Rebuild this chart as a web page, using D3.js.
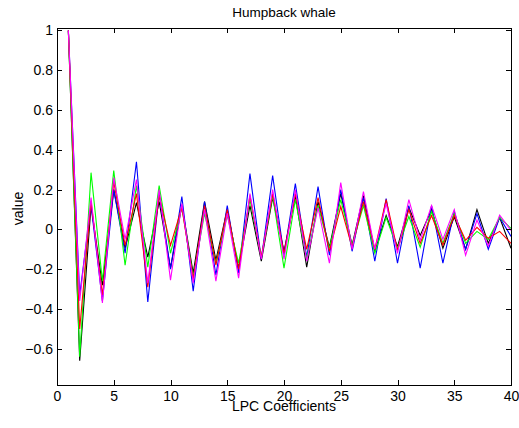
<!DOCTYPE html>
<html lang="en">
<head>
    <meta charset="UTF-8">
    <title>Humpback whale</title>
    <style>
        body {
            margin: 0;
            background: #fff;
            font-family: "Liberation Sans", Arial, sans-serif;
        }
        .axis path,
        .axis line {
            fill: none;
            stroke: #000;
            shape-rendering: crispEdges;
        }
        .axis text {
            font-family: "Liberation Sans", Arial, sans-serif;
            font-size: 14px;
            fill: #000;
        }
        .series {
            fill: none;
            stroke-width: 1.1;
        }
    </style>
</head>
<body>
    <svg width="519" height="428"></svg>
    <script src="https://d3js.org/d3.v7.min.js"></script>
    <script>
        // LPC coefficient index 1..40
        const coeffs = d3.range(1, 41);

        const blueVals = [1, -0.33, 0.12, -0.36, 0.20, -0.12, 0.34, -0.365, 0.18, -0.20,
            0.165, -0.31, 0.14, -0.23, 0.12, -0.22, 0.28, -0.15, 0.27, -0.13,
            0.23, -0.14, 0.215, -0.13, 0.20, -0.11, 0.16, -0.16, 0.155, -0.17,
            0.12, -0.195, 0.12, -0.17, 0.09, -0.10, 0.08, -0.10, 0.06, -0.035];
        const greenVals = [1, -0.64, 0.285, -0.26, 0.295, -0.18, 0.22, -0.19, 0.22, -0.12,
            0.11, -0.24, 0.08, -0.17, 0.07, -0.17, 0.15, -0.14, 0.17, -0.195,
            0.15, -0.15, 0.12, -0.095, 0.15, -0.08, 0.12, -0.12, 0.06, -0.095,
            0.065, -0.09, 0.09, -0.07, 0.08, -0.07, -0.01, -0.05, 0.06, 0.005];
        const redVals = [1, -0.5, 0.14, -0.33, 0.24, -0.08, 0.18, -0.29, 0.17, -0.08,
            0.11, -0.25, 0.12, -0.18, 0.10, -0.20, 0.17, -0.14, 0.18, -0.12,
            0.18, -0.10, 0.16, -0.11, 0.115, -0.09, 0.14, -0.10, 0.15, -0.105,
            0.10, -0.07, 0.07, -0.08, 0.07, -0.055, 0.01, -0.045, -0.01, -0.07];
        const magentaVals = [1, -0.36, 0.16, -0.37, 0.26, -0.05, 0.25, -0.27, 0.20, -0.255,
            0.13, -0.27, 0.10, -0.26, 0.08, -0.245, 0.18, -0.15, 0.20, -0.15,
            0.20, -0.16, 0.11, -0.17, 0.235, -0.10, 0.19, -0.10, 0.13, -0.12,
            0.15, -0.055, 0.12, -0.05, 0.10, -0.13, 0.047, -0.085, 0.072, -0.005];
        const blackVals = [1, -0.66, 0.12, -0.28, 0.20, -0.095, 0.135, -0.14, 0.14, -0.195,
            0.12, -0.22, 0.14, -0.155, 0.10, -0.195, 0.12, -0.16, 0.16, -0.11,
            0.17, -0.19, 0.14, -0.09, 0.18, -0.08, 0.17, -0.11, 0.07, -0.087,
            0.11, -0.03, 0.10, -0.095, 0.063, -0.10, 0.10, -0.07, 0.06, -0.095];

        const xTicks = [0, 5, 10, 15, 20, 25, 30, 35, 40];
        const yTicks = [-0.6, -0.4, -0.2, 0, 0.2, 0.4, 0.6, 0.8, 1];

        const seriesList = [
            {color: "#000000", values: blackVals},
            {color: "#0000ff", values: blueVals},
            {color: "#00ff00", values: greenVals},
            {color: "#ff0000", values: redVals},
            {color: "#ff00ff", values: magentaVals}
        ];

        const svg = d3.select("svg");
        const width = +svg.attr("width");
        const height = +svg.attr("height");
        const margin = {top: 28, right: 8, bottom: 43, left: 57};
        const innerWidth = width - margin.left - margin.right;
        const innerHeight = height - margin.top - margin.bottom;

        const x = d3.scaleLinear().domain([0, 40]).range([0, innerWidth]);
        const y = d3.scaleLinear().domain([-0.782, 1.012]).range([innerHeight, 0]);

        const g = svg.append("g")
            .attr("transform", `translate(${margin.left},${margin.top})`);

        // lines
        const line = d3.line()
            .x((d, i) => x(coeffs[i]))
            .y(d => y(d));

        g.selectAll(".series")
            .data(seriesList)
            .enter().append("path")
            .attr("class", "series")
            .attr("stroke", d => d.color)
            .attr("d", d => line(d.values));

        // axes, ticks pointing inward, box on all sides
        g.append("g")
            .attr("class", "axis")
            .attr("transform", `translate(0,${innerHeight})`)
            .call(d3.axisBottom(x).tickValues(xTicks).tickSizeInner(-5).tickSizeOuter(0).tickPadding(6));

        g.append("g")
            .attr("class", "axis")
            .call(d3.axisTop(x).tickValues(xTicks).tickSizeInner(-5).tickSizeOuter(0).tickFormat(""));

        g.append("g")
            .attr("class", "axis")
            .call(d3.axisLeft(y).tickValues(yTicks).tickSizeInner(-5).tickSizeOuter(0).tickPadding(4)
                .tickFormat(d => d3.format("")(+d.toFixed(1))));

        g.append("g")
            .attr("class", "axis")
            .attr("transform", `translate(${innerWidth},0)`)
            .call(d3.axisRight(y).tickValues(yTicks).tickSizeInner(-5).tickSizeOuter(0).tickFormat(""));

        // labels
        svg.append("text")
            .attr("x", margin.left + innerWidth / 2)
            .attr("y", 17)
            .attr("text-anchor", "middle")
            .style("font-size", "13.5px")
            .text("Humpback whale");

        svg.append("text")
            .attr("x", margin.left + innerWidth / 2)
            .attr("y", 411)
            .attr("text-anchor", "middle")
            .style("font-size", "14px")
            .text("LPC Coefficients");

        svg.append("text")
            .attr("transform", `translate(23,${margin.top + innerHeight / 2 + 2}) rotate(-90)`)
            .attr("text-anchor", "middle")
            .style("font-size", "14px")
            .text("value");
    </script>
</body>
</html>
